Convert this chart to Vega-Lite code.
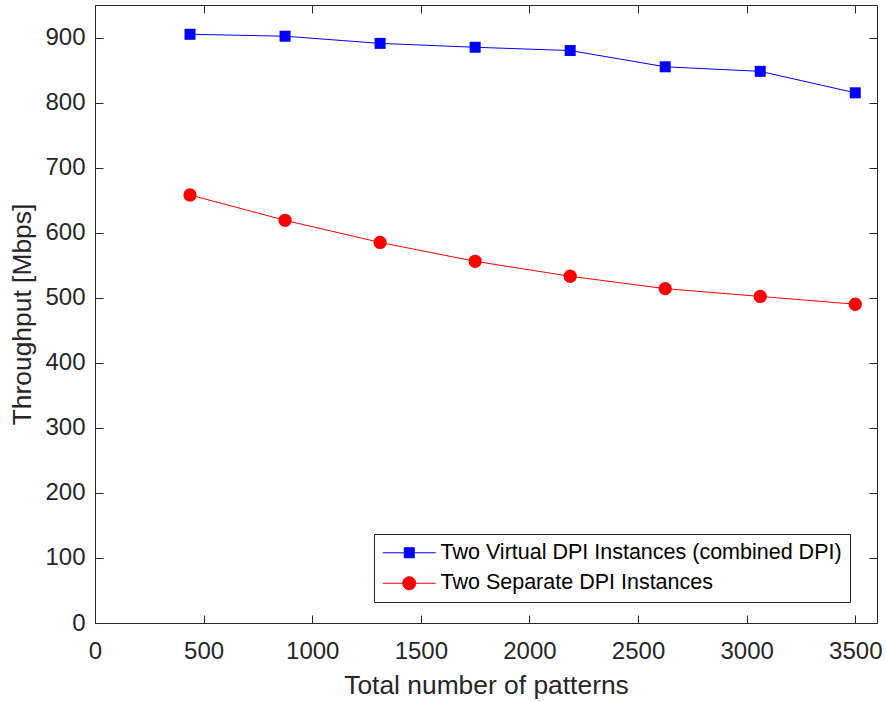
{
  "$schema": "https://vega.github.io/schema/vega-lite/v6.json",
  "width": 782,
  "height": 618,
  "autosize": {"type": "none"},
  "padding": {"left": 95, "top": 5, "right": 9, "bottom": 79},
  "background": "white",
  "config": {
    "view": {"stroke": "#262626", "strokeWidth": 1},
    "font": "Liberation Sans",
    "axis": {"grid": false, "domain": false, "tickColor": "#262626", "labelColor": "#262626", "titleColor": "#262626", "labelFont": "Liberation Sans", "titleFont": "Liberation Sans", "labelFontSize": 24, "titleFontSize": 26.4, "titleFontWeight": "normal", "tickSize": -8, "tickWidth": 1, "labelFlush": false, "labelOverlap": false},
    "legend": {"orient": "none", "legendX": 279, "legendY": 529, "padding": 8, "strokeColor": "#262626", "fillColor": "white", "labelFont": "Liberation Sans", "labelFontSize": 21.5, "labelColor": "#000000", "labelLimit": 1000, "labelOffset": 37, "rowPadding": 7.5, "symbolSize": 100, "symbolStrokeWidth": 1, "symbolOpacity": 1}
  },
  "data": {
    "values": [
      {"patterns": 437.5, "throughput": 905, "series": "Two Virtual DPI Instances (combined DPI)"},
      {"patterns": 875, "throughput": 902, "series": "Two Virtual DPI Instances (combined DPI)"},
      {"patterns": 1312.5, "throughput": 891, "series": "Two Virtual DPI Instances (combined DPI)"},
      {"patterns": 1750, "throughput": 885, "series": "Two Virtual DPI Instances (combined DPI)"},
      {"patterns": 2187.5, "throughput": 880, "series": "Two Virtual DPI Instances (combined DPI)"},
      {"patterns": 2625, "throughput": 855, "series": "Two Virtual DPI Instances (combined DPI)"},
      {"patterns": 3062.5, "throughput": 848, "series": "Two Virtual DPI Instances (combined DPI)"},
      {"patterns": 3500, "throughput": 815, "series": "Two Virtual DPI Instances (combined DPI)"},
      {"patterns": 437.5, "throughput": 658, "series": "Two Separate DPI Instances"},
      {"patterns": 875, "throughput": 619, "series": "Two Separate DPI Instances"},
      {"patterns": 1312.5, "throughput": 585, "series": "Two Separate DPI Instances"},
      {"patterns": 1750, "throughput": 556, "series": "Two Separate DPI Instances"},
      {"patterns": 2187.5, "throughput": 533, "series": "Two Separate DPI Instances"},
      {"patterns": 2625, "throughput": 514, "series": "Two Separate DPI Instances"},
      {"patterns": 3062.5, "throughput": 502, "series": "Two Separate DPI Instances"},
      {"patterns": 3500, "throughput": 490, "series": "Two Separate DPI Instances"}
    ]
  },
  "layer": [
    {
      "mark": {"type": "line", "strokeWidth": 1},
      "encoding": {
        "x": {"field": "patterns", "type": "quantitative", "scale": {"domain": [0, 3600], "nice": false, "zero": false},
          "axis": {"orient": "bottom", "values": [0, 500, 1000, 1500, 2000, 2500, 3000, 3500], "format": "d", "title": "Total number of patterns", "labelPadding": 24, "titlePadding": 9}},
        "y": {"field": "throughput", "type": "quantitative", "scale": {"domain": [0, 950], "nice": false},
          "axis": {"orient": "left", "values": [0, 100, 200, 300, 400, 500, 600, 700, 800, 900], "format": "d", "title": "Throughput [Mbps]", "labelPadding": 18, "titlePadding": 8}},
        "stroke": {"field": "series", "type": "nominal", "scale": {"domain": ["Two Virtual DPI Instances (combined DPI)", "Two Separate DPI Instances"], "range": ["#0000ff", "#ff0000"]}, "legend": {"title": null}}
      }
    },
    {
      "transform": [{"filter": "datum.series === 'Two Virtual DPI Instances (combined DPI)'"}],
      "mark": {"type": "point", "shape": "square", "filled": true, "opacity": 1, "size": 121, "color": "#0000ff"},
      "encoding": {
        "x": {"field": "patterns", "type": "quantitative", "axis": null},
        "y": {"field": "throughput", "type": "quantitative", "axis": null}
      }
    },
    {
      "transform": [{"filter": "datum.series === 'Two Separate DPI Instances'"}],
      "mark": {"type": "point", "shape": "circle", "filled": true, "opacity": 1, "size": 177, "color": "#ff0000"},
      "encoding": {
        "x": {"field": "patterns", "type": "quantitative", "axis": null},
        "y": {"field": "throughput", "type": "quantitative", "axis": null}
      }
    },
    {
      "mark": {"type": "point", "filled": true, "opacity": 0},
      "encoding": {
        "x": {"field": "patterns", "type": "quantitative", "axis": null},
        "y": {"field": "throughput", "type": "quantitative", "axis": null},
        "fill": {"field": "series", "type": "nominal", "scale": {"domain": ["Two Virtual DPI Instances (combined DPI)", "Two Separate DPI Instances"], "range": ["#0000ff", "#ff0000"]}, "legend": {"title": null}},
        "stroke": {"field": "series", "type": "nominal", "legend": {"title": null}},
        "shape": {"field": "series", "type": "nominal", "scale": {"domain": ["Two Virtual DPI Instances (combined DPI)", "Two Separate DPI Instances"], "range": ["M-2,0H8.6M2.3,-1H4.3V1H2.3Z", "M-2,0H8.6M2,0A1.3,1.3,0,1,1,4.6,0A1.3,1.3,0,1,1,2,0Z"]}, "legend": {"title": null}}
      }
    },
    {
      "mark": {"type": "point", "opacity": 0},
      "encoding": {
        "x": {"field": "patterns", "type": "quantitative", "axis": {"orient": "top", "values": [0, 500, 1000, 1500, 2000, 2500, 3000, 3500], "labels": false, "title": null}},
        "y": {"field": "throughput", "type": "quantitative", "axis": {"orient": "right", "values": [0, 100, 200, 300, 400, 500, 600, 700, 800, 900], "labels": false, "title": null}}
      }
    }
  ],
  "resolve": {"axis": {"x": "independent", "y": "independent"}}
}
